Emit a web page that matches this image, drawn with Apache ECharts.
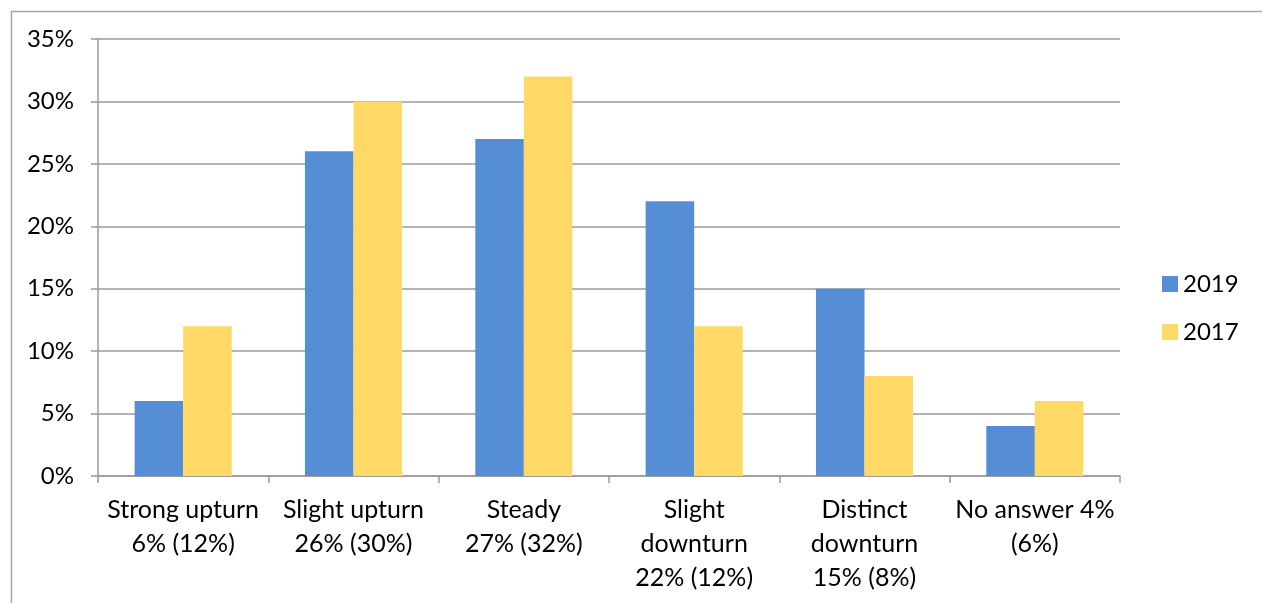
<!DOCTYPE html>
<html>
<head>
<meta charset="utf-8">
<script src="https://cdn.jsdelivr.net/npm/echarts@6/dist/echarts.min.js"></script>
<style>
  html, body { margin: 0; padding: 0; background: #fff; }
  #chart { width: 1262px; height: 603px; }
</style>
</head>
<body>
<div id="chart"></div>
<script>
// outlook categories, values in percent
const categories = [
  'Strong upturn\n6% (12%)',
  'Slight upturn\n26% (30%)',
  'Steady\n27% (32%)',
  'Slight\ndownturn\n22% (12%)',
  'Distinct\ndownturn\n15% (8%)',
  'No answer 4%\n(6%)'
];
const values2019 = [6, 26, 27, 22, 15, 4];
const values2017 = [12, 30, 32, 12, 8, 6];

const font = 'Lato, "Open Sans", sans-serif';
const gray = '#9a9a9a';

const chart = echarts.init(document.getElementById('chart'));
chart.setOption({
  animation: false,
  textStyle: { fontFamily: font },
  graphic: [{
    type: 'rect',
    left: 9, top: 9,
    shape: { width: 1400, height: 800 },
    style: { fill: 'none', stroke: '#a6a6a6', lineWidth: 1.5 },
    silent: true
  }],
  grid: { left: 98, right: 142, top: 39, bottom: 127 },
  legend: {
    orient: 'vertical',
    left: 1157,
    top: 267,
    itemWidth: 16,
    itemHeight: 16,
    itemGap: 24,
    icon: 'rect',
    textStyle: { fontSize: 24, color: '#000', fontFamily: font },
    data: ['2019', '2017']
  },
  xAxis: {
    type: 'category',
    data: categories,
    axisLine: { lineStyle: { color: gray, width: 1.5 } },
    axisTick: { show: true, length: 7, lineStyle: { color: gray, width: 1.5 } },
    axisLabel: {
      interval: 0,
      margin: 17,
      fontSize: 25,
      lineHeight: 34,
      color: '#000',
      fontFamily: font
    }
  },
  yAxis: {
    type: 'value',
    min: 0,
    max: 35,
    interval: 5,
    axisLine: { show: true, lineStyle: { color: gray, width: 1.5 } },
    axisTick: { show: true, length: 7, lineStyle: { color: gray, width: 1.5 } },
    splitLine: { lineStyle: { color: gray, width: 1.5 } },
    axisLabel: {
      formatter: '{value}%',
      margin: 24,
      fontSize: 24,
      color: '#000',
      fontFamily: font
    }
  },
  series: [
    {
      name: '2019',
      type: 'bar',
      data: values2019,
      barGap: '0%',
      barCategoryGap: '43%',
      itemStyle: { color: '#558ed5' }
    },
    {
      name: '2017',
      type: 'bar',
      data: values2017,
      itemStyle: { color: '#ffd966' }
    }
  ]
});
</script>
</body>
</html>
